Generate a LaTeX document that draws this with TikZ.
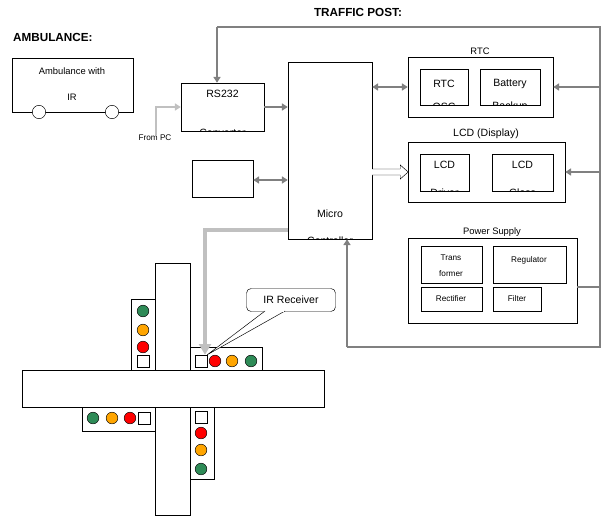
\documentclass[tikz,border=0pt]{standalone}
\usepackage{fontspec}
\setmainfont{Liberation Sans}
\usetikzlibrary{arrows.meta,calc}

\definecolor{lgreen}{HTML}{2E8B57}
\definecolor{lorange}{HTML}{FFA500}
\definecolor{lred}{HTML}{FF0000}
\definecolor{wire}{HTML}{808080}
\definecolor{lwire}{HTML}{C0C0C0}

\tikzset{
  blk/.style={draw,thin,inner sep=0pt,fill=white},
  txt/.style={font=\fontsize{8}{9}\selectfont,inner sep=0pt},
  garr/.style={draw=wire,line width=2.2pt,-{Triangle[length=5pt,width=6pt]}},
  gdarr/.style={draw=wire,line width=2.2pt,{Triangle[length=5pt,width=6pt]}-{Triangle[length=5pt,width=6pt]}},
  gline/.style={draw=wire,line width=2.2pt},
  lamp/.style={circle,draw,thin,inner sep=0pt,minimum size=3.5mm},
  sens/.style={rectangle,draw,thin,inner sep=0pt,minimum size=3.6mm,fill=white}
}

% caja: [opciones]{x1}{y1}{x2}{y2}{nombre}
\newcommand{\blk}[6][]{\node[blk,#1,minimum width={(#4-#2)*0.3mm},minimum height={(#5-#3)*0.3mm}] (#6) at ({(#2+#4)/2},{(#3+#5)/2}) {};}

\begin{document}
\begin{tikzpicture}[x=0.3mm,y=-0.3mm]
  \useasboundingbox (0,0) rectangle (603,518);

  % Titulos
  \node[font=\bfseries\fontsize{10}{12}\selectfont,anchor=west] (tamb) at (9,37) {AMBULANCE:};
  \node[font=\bfseries\fontsize{10}{12}\selectfont] (tpost) at (358,12) {TRAFFIC POST:};

  % Ambulancia
  \blk{12}{58}{133}{112}{amb}
  \node[txt] (amba) at (72,71) {Ambulance with};
  \node[txt] (ambb) at (72,97) {IR};
  \node[circle,draw,thin,fill=white,minimum size=4mm,inner sep=0pt] (w1) at (39,112) {};
  \node[circle,draw,thin,fill=white,minimum size=4mm,inner sep=0pt] (w2) at (112,112) {};

  % Bloques del puesto
  \blk{181}{83}{264}{131}{rs}
  \blk{288}{62}{372}{239}{mc}
  \blk{192}{160}{253}{197}{aux}
  \blk{408}{57}{553}{117}{rtc}
  \blk{420}{69}{468}{105}{osc}
  \blk{480}{69}{540}{105}{bat}
  \blk{408}{142}{565}{202}{lcd}
  \blk{420}{154}{469}{191}{drv}
  \blk{492}{154}{553}{191}{gls}
  \blk{408}{238}{577}{323}{ps}
  \blk{421}{246}{482}{283}{trf}
  \blk{493}{246}{566}{283}{reg}
  \blk{421}{287}{482}{311}{rec}
  \blk{493}{287}{541}{311}{flt}

  % Textos (cortados por la caja)
  \node[txt] (lrtc) at (480,51) {RTC};
  \node[font=\fontsize{9}{10}\selectfont,inner sep=0pt] (llcd) at (486,134) {LCD (Display)};
  \node[txt] (lps) at (492,232) {Power Supply};
  \foreach \b/\ya/\ta/\yb/\tb in {rs/94/RS232/133/Converter, mc/214/Micro/241/Controller,
      osc/84/RTC/107/OSC, bat/84/Battery/107/Backup,
      drv/165/LCD/193/Driver, gls/165/LCD/193/Glass} {
    \begin{scope}
      \clip (\b.south west) rectangle (\b.north east);
      \node[font=\fontsize{9}{10}\selectfont,inner sep=0pt] at (\b |- 0,\ya) {\ta};
      \node[font=\fontsize{9}{10}\selectfont,inner sep=0pt] at (\b |- 0,\yb) {\tb};
    \end{scope}
  }
  \node[txt,font=\fontsize{7}{8}\selectfont] (ltrf) at (451,258) {Trans};
  \node[txt,font=\fontsize{7}{8}\selectfont] (ltrf2) at (451,274) {former};
  \node[txt,font=\fontsize{7}{8}\selectfont] (lreg) at (529,260) {Regulator};
  \node[txt,font=\fontsize{7}{8}\selectfont] (lrec) at (451,299) {Rectifier};
  \node[txt,font=\fontsize{7}{8}\selectfont] (lflt) at (517,299) {Filter};

  % Conexiones
  \node[txt,font=\fontsize{7}{8}\selectfont] (pc) at (155,138) {From PC};
  \coordinate (pcup) at (156,107);
  \draw[draw=lwire,line width=2.2pt,-{Triangle[length=5pt,width=6pt]}] (pc.north -| pcup) -- (pcup) -- (rs.west |- pcup);
  \draw[garr] (rs.east |- pcup) -- (mc.west |- pcup);
  \draw[gdarr] (aux.east |- 0,180) -- (mc.west |- 0,180);
  \draw[gdarr] (mc.east |- 0,87) -- (rtc.west |- 0,87);
  \draw[thin,fill=white] (mc.east |- 0,169) -- ++(28,0) -- ++(0,-4) -- ++(8,7) -- ++(-8,7) -- ++(0,-4) -- ++(-28,0);

  % Lazo de realimentacion
  \coordinate (tl) at (217,27);
  \coordinate (tr) at (600,27);
  \coordinate (br) at (600,347);
  \coordinate (bl) at (347,347);
  \draw[gline] (tl) -- (tr) -- (br) -- (bl);
  \draw[garr] (tl) -- (tl |- rs.north);
  \draw[garr] (bl) -- (bl |- mc.south);
  \draw[garr] (tr |- 0,87) -- (rtc.east |- 0,87);
  \draw[garr] (tr |- 0,172) -- (lcd.east |- 0,172);
  \draw[gline] (ps.east |- 0,287) -- (tr |- 0,287);

  % Cruce de calles
  \blk{155}{263}{190}{515}{vroad}
  \blk{22}{370}{324}{407}{hroad}
  \blk{131}{299}{155}{370}{ptl}
  \blk{190}{347}{262}{370}{ptr}
  \blk{82}{407}{155}{431}{pbl}
  \blk{190}{407}{214}{479}{pbr}

  % Semaforos
  \node[lamp,fill=lgreen] (tlg) at (143,311) {};
  \node[lamp,fill=lorange] (tlo) at (143,330) {};
  \node[lamp,fill=lred] (tlr) at (143,347) {};
  \node[sens] (tls) at (143,361) {};
  \node[sens] (trs) at (201,361) {};
  \node[lamp,fill=lred] (trr) at (215,361) {};
  \node[lamp,fill=lorange] (tro) at (232,361) {};
  \node[lamp,fill=lgreen] (trg) at (251,361) {};
  \node[lamp,fill=lgreen] (blg) at (93,418) {};
  \node[lamp,fill=lorange] (blo) at (112,418) {};
  \node[lamp,fill=lred] (blr) at (130,418) {};
  \node[sens] (bls) at (144,418) {};
  \node[sens] (brs) at (201,417) {};
  \node[lamp,fill=lred] (brr) at (201,433) {};
  \node[lamp,fill=lorange] (bro) at (201,450) {};
  \node[lamp,fill=lgreen] (brg) at (201,469) {};

  % Senal al receptor
  \coordinate (bend) at (205,230);
  \draw[draw=lwire,line width=4pt,-{Triangle[length=9pt,width=10pt]}] (mc.west |- bend) -- (bend) -- (bend |- trs.north);

  % Globo
  \node[draw,thin,rounded corners=4pt,minimum width={89*0.3mm},minimum height={23*0.3mm},inner sep=0pt,font=\fontsize{9}{10}\selectfont] (irr) at (291,300) {IR Receiver};
  \filldraw[thin,fill=white] (265,311) -- (trs.north east) -- (285,311);
  \draw[white,line width=1pt] (266,311) -- (284,311);
\end{tikzpicture}
\end{document}
